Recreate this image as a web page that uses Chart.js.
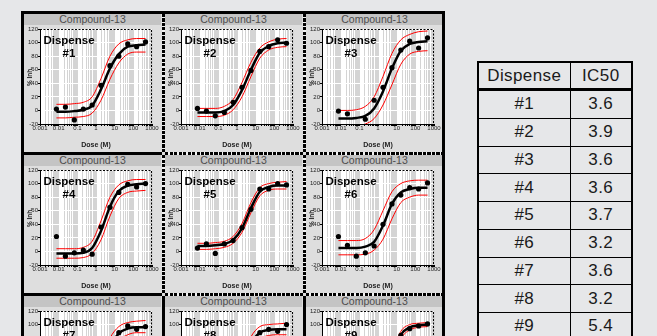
<!DOCTYPE html>
<html lang="en">
<head>
<meta charset="UTF-8">
<title>Compound-13 dose response by dispense</title>
<script src="https://cdn.jsdelivr.net/npm/chart.js"></script>
<style>
  html, body { margin:0; padding:0; width:657px; height:336px; overflow:hidden; background:#e6e7e9;
               font-family:"Liberation Sans", Arial, sans-serif; }
  .cell  { position:absolute; width:141px; height:141px; background:#dedede; }
  .strip { position:absolute; left:2px; top:2px; width:137px; height:11px; background:#c4c4c4; color:#4d4d4d;
           font-size:10.5px; line-height:11px; text-align:center; }
  .plot  { position:absolute; left:2px; top:13px; width:137px; height:126px; }
  .tag   { position:absolute; left:17px; top:22px; width:60px; font-weight:bold; font-size:11.5px;
           line-height:13px; text-align:center; color:#000; }
  .seg   { position:absolute; background:#000; }
  .dv    { background:repeating-linear-gradient(to bottom, #000 0 3px, #f2f2f2 3px 4.5px); }
  .dh    { background:repeating-linear-gradient(to right, #000 0 3px, #f2f2f2 3px 4.5px); }
  #ic50  { position:absolute; left:477px; top:61px; width:154px; table-layout:fixed; border-collapse:collapse;
           border:2px solid #000; font-size:17px; letter-spacing:0.4px; color:#1a1a1a; }
  #ic50 th, #ic50 td { border:1px solid #000; padding:0; height:26.75px; text-align:center; font-weight:normal;
                       overflow:visible; white-space:nowrap; }
  #ic50 th { border-bottom:3px solid #000; height:25px; }
  #ic50 .c1 { width:92px; }
  #ic50 .c2 { width:62px; }
</style>
</head>
<body>
<div id="grid"></div>
<table id="ic50">
  <colgroup><col class="c1"><col class="c2"></colgroup>
  <thead><tr><th>Dispense</th><th>IC50</th></tr></thead>
  <tbody></tbody>
</table>
<script>
// 3-fold dilution series (M)
const doses = [0.0076, 0.023, 0.069, 0.21, 0.62, 1.85, 5.6, 16.7, 50, 150, 450];
const xTickLabels = ['0.001', '0.01', '0.1', '1', '10', '100', '1000'];
const dispenseLabels = ['#1', '#2', '#3', '#4', '#5', '#6', '#7', '#8', '#9'];
const ic50Values = [3.6, 3.9, 3.6, 3.6, 3.7, 3.2, 3.6, 3.2, 5.4];

// % inhibition per dispense, one row per panel
const measured = [
  [2, 5, -14, 2, 8, 37, 66, 80, 98, 94, 101],
  [3, -1, -8, -3, 12, 34, 59, 87, 94, 104, 99],
  [-1, -5, null, -13, 15, 34, 63, 89, 102, 92, 107],
  [22, -7, -2, 2, -4, 36, 65, 87, 99, 95, 100],
  [5, 11, -3, 11, 16, 35, 62, 92, 92, 100, 98],
  [22, 9, -7, -2, 8, 40, 70, 83, 94, 92, 101],
  [20, 2, -5, 3, 8, 35, 68, 88, 98, 93, 97],
  [5, 8, -3, 6, 15, 40, 70, 88, 93, 90, 100],
  [3, 0, 5, 2, 6, 18, 50, 84, 94, 98, 101]
];
const fitted = [
  [-2, -2, -1, 1, 7, 31, 62, 83, 94, 96, 97],
  [-3, -3, -3, -1, 8, 30, 60, 85, 95, 99, 100],
  [-12, -12, -11, -8, 3, 28, 62, 88, 98, 101, 102],
  [-3, -3, -3, -2, 5, 30, 66, 89, 97, 99, 100],
  [8, 8, 9, 11, 17, 34, 64, 88, 95, 97, 97],
  [5, 5, 5, 7, 14, 38, 70, 87, 92, 94, 94],
  [0, 0, 1, 3, 10, 33, 66, 87, 94, 96, 96],
  [5, 5, 6, 8, 15, 40, 72, 88, 92, 93, 93],
  [2, 2, 2, 3, 5, 15, 50, 85, 96, 99, 100]
];
const upperBand = [
  [9, 9, 10, 12, 20, 47, 80, 98, 104, 106, 106],
  [3, 3, 3, 6, 16, 41, 71, 92, 101, 105, 106],
  [0, 0, 1, 6, 20, 50, 84, 104, 112, 116, 117],
  [4, 4, 4, 6, 15, 45, 80, 98, 104, 106, 106],
  [12, 12, 13, 15, 22, 41, 72, 94, 100, 102, 103],
  [16, 16, 16, 19, 32, 60, 88, 100, 104, 105, 105],
  [8, 8, 9, 12, 20, 46, 80, 97, 103, 105, 106],
  [12, 12, 13, 15, 24, 50, 82, 97, 100, 101, 102],
  [5, 5, 5, 6, 9, 22, 57, 90, 100, 102, 103]
];
const lowerBand = [
  [-11, -11, -10, -9, -4, 15, 46, 70, 83, 86, 86],
  [-9, -9, -9, -7, 1, 20, 50, 77, 89, 93, 94],
  [-24, -24, -23, -20, -12, 8, 38, 68, 83, 87, 88],
  [-10, -10, -10, -9, -3, 17, 52, 78, 87, 89, 90],
  [3, 3, 4, 6, 12, 28, 57, 82, 90, 92, 92],
  [-5, -5, -5, -4, 2, 18, 48, 72, 80, 83, 83],
  [-8, -8, -7, -5, 1, 20, 52, 76, 85, 88, 88],
  [-2, -2, -1, 1, 7, 28, 60, 78, 84, 85, 85],
  [-1, -1, -1, 0, 2, 10, 43, 79, 92, 96, 97]
];

Chart.defaults.font.family = '"Liberation Sans", Arial, sans-serif';

const grid = document.getElementById('grid');
const colLeft = [22, 163, 304];
const rowTop = [12, 153, 294];

// panel frame: white plot area, dashed top/right edge
const frame = {
  id: 'frame',
  beforeDraw(chart) {
    const a = chart.chartArea, ctx = chart.ctx;
    ctx.save();
    ctx.fillStyle = '#ffffff';
    ctx.fillRect(a.left, a.top, a.right - a.left, a.bottom - a.top);
    ctx.restore();
  },
  afterDraw(chart) {
    const a = chart.chartArea, ctx = chart.ctx;
    ctx.save();
    ctx.strokeStyle = '#000';
    ctx.lineWidth = 1;
    ctx.setLineDash([2, 1.5]);
    ctx.beginPath();
    ctx.moveTo(a.left, a.top + 0.5);
    ctx.lineTo(a.right - 0.5, a.top + 0.5);
    ctx.lineTo(a.right - 0.5, a.bottom);
    ctx.stroke();
    ctx.restore();
  }
};

const toXY = ys => doses.map((d, j) => ({ x: d, y: ys[j] }));

function isDecade(v) {
  const l = Math.log10(v);
  return Math.abs(l - Math.round(l)) < 1e-6;
}

dispenseLabels.forEach((lab, i) => {
  const r = Math.floor(i / 3), c = i % 3;
  const cell = document.createElement('div');
  cell.className = 'cell';
  cell.style.left = colLeft[c] + 'px';
  cell.style.top = rowTop[r] + 'px';
  cell.innerHTML = '<div class="strip">Compound-13</div>' +
                   '<div class="plot"><canvas></canvas></div>' +
                   '<div class="tag">Dispense<br>' + lab + '</div>';
  grid.appendChild(cell);

  new Chart(cell.querySelector('canvas'), {
    type: 'line',
    data: {
      datasets: [
        { data: toXY(measured[i]), showLine: false, pointRadius: 2.6, pointStyle: 'circle',
          backgroundColor: '#000', borderColor: '#000', borderWidth: 0 },
        { data: toXY(fitted[i]), borderColor: '#000', borderWidth: 2.5, pointRadius: 0,
          cubicInterpolationMode: 'monotone' },
        { data: toXY(upperBand[i]), borderColor: '#ff0000', borderWidth: 1, pointRadius: 0,
          cubicInterpolationMode: 'monotone' },
        { data: toXY(lowerBand[i]), borderColor: '#ff0000', borderWidth: 1, pointRadius: 0,
          cubicInterpolationMode: 'monotone' }
      ]
    },
    options: {
      responsive: true,
      maintainAspectRatio: false,
      animation: false,
      events: [],
      layout: { padding: { left: 0, right: 9, top: 4, bottom: 0 } },
      plugins: { legend: { display: false }, tooltip: { enabled: false }, title: { display: false } },
      scales: {
        x: {
          type: 'logarithmic',
          min: 0.001,
          max: 1000,
          afterFit: s => { s.height = 27; },
          afterBuildTicks: s => {
            s.ticks = s.ticks.filter(t => {
              const m = t.value / Math.pow(10, Math.floor(Math.log10(t.value) + 1e-9));
              return Math.abs(m - Math.round(m)) < 1e-6;
            });
          },
          ticks: {
            autoSkip: false, maxRotation: 0, minRotation: 0, padding: -1,
            color: '#222', font: { size: 6 },
            callback: v => isDecade(v) ? xTickLabels[Math.round(Math.log10(v)) + 3] : ''
          },
          grid: { color: '#d4d4d4', lineWidth: 1, tickColor: '#000', tickLength: 2 },
          border: { display: true, color: '#000', width: 1 },
          title: { display: true, text: 'Dose (M)', color: '#222',
                   font: { size: 7, weight: 'bold' }, padding: { top: 0, bottom: 2 } }
        },
        y: {
          min: -20,
          max: 120,
          afterFit: s => { s.width = 16; },
          ticks: { stepSize: 20, padding: 0, color: '#222', font: { size: 6 } },
          grid: { color: '#ffffff', lineWidth: 1, tickColor: '#000', tickLength: 2 },
          border: { display: true, color: '#000', width: 1 },
          title: { display: true, text: '% Inh.', color: '#222',
                   font: { size: 6.5, weight: 'bold' }, padding: { top: 2, bottom: 0 } }
        }
      }
    },
    plugins: [frame]
  });
});

// panel separators: solid outer frame, dashed around the middle panels
const segs = [
  [21, 11, 3, 330, ''], [21, 11, 424, 3, ''], [442, 11, 3, 330, ''],
  [162, 14, 3, 138, 'dv'], [162, 155, 3, 138, 'dv'], [162, 296, 3, 45, ''],
  [303, 14, 3, 138, 'dv'], [303, 155, 3, 138, 'dv'], [303, 296, 3, 45, ''],
  [24, 152, 138, 3, ''], [165, 152, 138, 3, 'dh'], [306, 152, 136, 3, 'dh'],
  [24, 293, 138, 3, ''], [165, 293, 138, 3, 'dh'], [306, 293, 136, 3, 'dh']
];
segs.forEach(([x, y, w, h, cls]) => {
  const d = document.createElement('div');
  d.className = 'seg ' + cls;
  d.style.cssText = `left:${x}px;top:${y}px;width:${w}px;height:${h}px;`;
  grid.appendChild(d);
});

// IC50 table
const tbody = document.querySelector('#ic50 tbody');
dispenseLabels.forEach((lab, i) => {
  const tr = document.createElement('tr');
  tr.innerHTML = `<td>${lab}</td><td>${ic50Values[i].toFixed(1)}</td>`;
  tbody.appendChild(tr);
});
</script>
</body>
</html>
